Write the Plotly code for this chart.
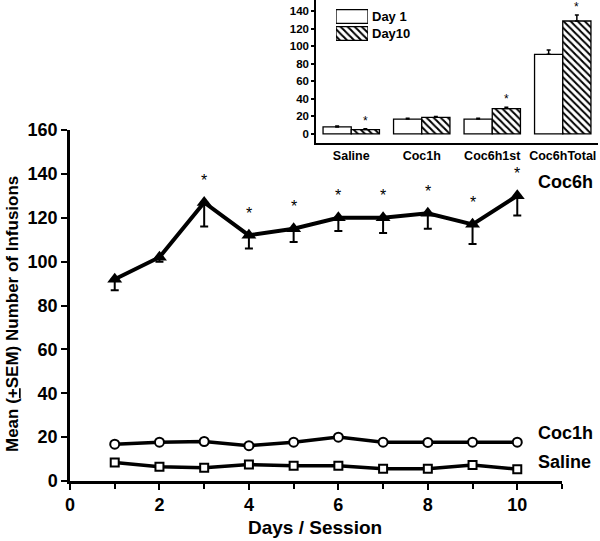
import plotly.graph_objects as go

# ---- main chart data ----
days = [1, 2, 3, 4, 5, 6, 7, 8, 9, 10]
coc6h = [92, 102, 127, 112, 115, 120, 120, 122, 117, 130]
coc6h_sem = [5, 2, 11, 6, 6, 6, 7, 7, 9, 9]
coc6h_sig = [0, 0, 1, 1, 1, 1, 1, 1, 1, 1]
coc1h = [16.8, 17.7, 18.0, 16.1, 17.7, 20.0, 17.7, 17.6, 17.7, 17.7]
saline = [8.4, 6.5, 6.0, 7.5, 7.0, 7.0, 5.6, 5.6, 7.3, 5.4]

# ---- inset data ----
groups = ["Saline", "Coc1h", "Coc6h1st", "Coc6hTotal"]
day1_vals = [8, 17, 17, 91]
day1_sem = [1, 1, 1, 5]
day10_vals = [5, 19, 29, 129]
day10_sem = [1, 1, 1.5, 7]
day10_sig = [1, 0, 1, 1]
legend_names = ["Day 1", "Day10"]

FONT = "Liberation Sans, Arial, sans-serif"
W, H = 600, 541

def px_x(p):
    return p / W

def px_y(p):
    return 1 - p / H

HATCH = dict(shape="\\", fgcolor="black", bgcolor="white", size=5, solidity=0.4)

fig = go.Figure()

# main series
fig.add_trace(go.Scatter(
    x=days, y=coc6h, mode="lines+markers", name="Coc6h",
    line=dict(color="black", width=4),
    marker=dict(symbol="triangle-up", size=13, color="black"),
    error_y=dict(type="data", symmetric=False, array=[0] * len(days),
                 arrayminus=coc6h_sem, color="black", thickness=2, width=4),
    xaxis="x", yaxis="y", showlegend=False))
fig.add_trace(go.Scatter(
    x=days, y=coc1h, mode="lines+markers", name="Coc1h",
    line=dict(color="black", width=3.5),
    marker=dict(symbol="circle", size=9, color="white", line=dict(color="black", width=2)),
    xaxis="x", yaxis="y", showlegend=False))
fig.add_trace(go.Scatter(
    x=days, y=saline, mode="lines+markers", name="Saline",
    line=dict(color="black", width=3.5),
    marker=dict(symbol="square", size=8, color="white", line=dict(color="black", width=2)),
    xaxis="x", yaxis="y", showlegend=False))

# inset bars
fig.add_trace(go.Bar(
    x=groups, y=day1_vals, name=legend_names[0],
    marker=dict(color="white", line=dict(color="black", width=1.3)),
    error_y=dict(type="data", symmetric=False, array=day1_sem,
                 arrayminus=[0] * 4, color="black", thickness=1.5, width=2),
    xaxis="x2", yaxis="y2", showlegend=False))
fig.add_trace(go.Bar(
    x=groups, y=day10_vals, name=legend_names[1],
    marker=dict(color="white", line=dict(color="black", width=1.3), pattern=HATCH),
    error_y=dict(type="data", symmetric=False, array=day10_sem,
                 arrayminus=[0] * 4, color="black", thickness=1.5, width=2),
    xaxis="x2", yaxis="y2", showlegend=False))

# inset legend swatches (hidden axis)
fig.add_trace(go.Bar(
    x=[1, 1], y=legend_names, orientation="h",
    marker=dict(color="white", line=dict(color="black", width=1.3),
                pattern=dict(HATCH, shape=["", "\\"])),
    xaxis="x3", yaxis="y3", showlegend=False, hoverinfo="skip"))

annotations = []
for d, v, s in zip(days, coc6h, coc6h_sig):
    if s:
        annotations.append(dict(x=d, y=v, xref="x", yref="y", text="*",
                                showarrow=False, yshift=22,
                                font=dict(family=FONT, size=16, color="black")))
for g, v, e, s in zip(groups, day10_vals, day10_sem, day10_sig):
    if s:
        annotations.append(dict(x=g, y=v + e, xref="x2", yref="y2", text="*",
                                showarrow=False, xshift=14, yshift=8,
                                font=dict(family=FONT, size=12, color="black")))

# series labels at right
for name, vals, ys in [("Coc6h", coc6h, 14), ("Coc1h", coc1h, 9), ("Saline", saline, 7)]:
    annotations.append(dict(x=10.42, y=vals[-1], xref="x", yref="y", text="<b>%s</b>" % name,
                            showarrow=False, xanchor="left", yanchor="middle", yshift=ys,
                            font=dict(family=FONT, size=18, color="black")))

# axis titles
annotations.append(dict(x=px_x(315), y=px_y(527), xref="paper", yref="paper",
                        xanchor="center", yanchor="middle",
                        text="<b>Days / Session</b>", showarrow=False,
                        font=dict(family=FONT, size=19, color="black")))
annotations.append(dict(x=px_x(12), y=px_y(314), xref="paper", yref="paper",
                        xanchor="center", yanchor="middle",
                        text="<b>Mean (<u>+</u>SEM) Number of Infusions</b>", showarrow=False,
                        textangle=-90,
                        font=dict(family=FONT, size=17, color="black")))

fig.update_layout(
    template="none",
    width=W, height=H,
    margin=dict(l=0, r=0, t=0, b=0, autoexpand=False),
    paper_bgcolor="white", plot_bgcolor="rgba(0,0,0,0)",
    font=dict(family=FONT, color="black"),
    barmode="group", bargap=0.2, bargroupgap=0,
    annotations=annotations,
    xaxis=dict(domain=[px_x(70), px_x(562)], range=[0, 11], dtick=2, tick0=0,
               showline=True, linecolor="black", linewidth=2.5, mirror=False,
               ticks="outside", ticklen=6, tickwidth=2, tickcolor="black",
               minor=dict(dtick=1, tick0=0, ticks="outside", ticklen=5, tickwidth=2, tickcolor="black"),
               showgrid=False, zeroline=False, anchor="y", automargin=False,
               tickfont=dict(family=FONT, size=18, color="black", weight="bold")),
    yaxis=dict(domain=[px_y(481), px_y(130)], range=[0, 160], dtick=20,
               showline=True, linecolor="black", linewidth=2.5,
               ticks="outside", ticklen=6, tickwidth=2, tickcolor="black",
               showgrid=False, zeroline=False, anchor="x", automargin=False,
               tickfont=dict(family=FONT, size=18, color="black", weight="bold")),
    xaxis2=dict(domain=[px_x(316), px_x(598)], anchor="y2",
                showline=True, linecolor="black", linewidth=2,
                ticks="", showgrid=False, zeroline=False, automargin=False,
                tickfont=dict(family=FONT, size=12.5, color="black", weight="bold")),
    yaxis2=dict(domain=[px_y(142.7), 1.0], anchor="x2", range=[-10, 153], dtick=20,
                showline=True, linecolor="black", linewidth=1.5,
                ticks="outside", ticklen=3, tickwidth=1.5, tickcolor="black",
                showgrid=False, zeroline=False, automargin=False,
                tickfont=dict(family=FONT, size=11.5, color="black", weight="bold")),
    xaxis3=dict(domain=[px_x(336), px_x(368)], anchor="y3", range=[0, 1],
                visible=False, fixedrange=True, automargin=False),
    yaxis3=dict(domain=[px_y(42), px_y(8)], anchor="x3", autorange="reversed",
                side="right", showline=False, ticks="", showgrid=False, zeroline=False,
                automargin=False, ticklabelstandoff=3,
                tickfont=dict(family=FONT, size=13, color="black", weight="bold")),
)

fig.write_html("out.html",
               config={"displayModeBar": False},
               post_script="document.body.style.margin='0px';document.body.style.overflow='hidden';")
